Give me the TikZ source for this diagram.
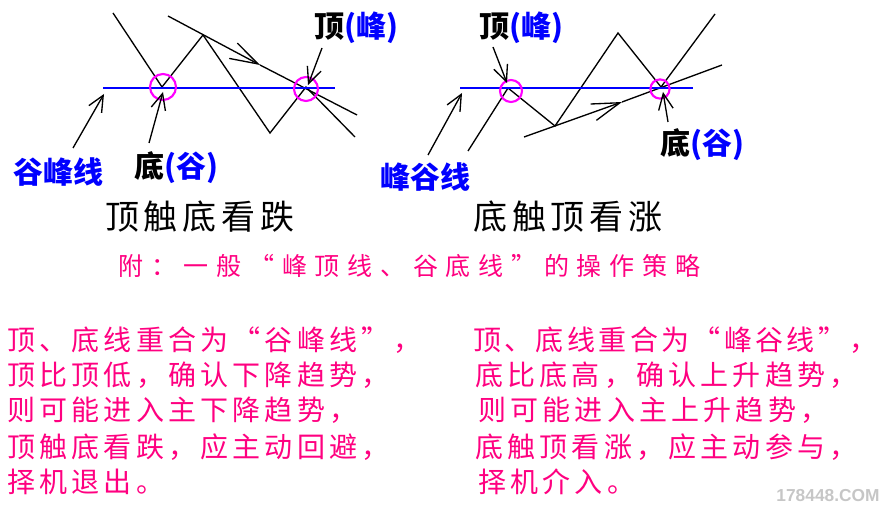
\documentclass[tikz,border=0pt]{standalone}
\usepackage{fontspec}
\newfontfamily\cjk{Noto Sans CJK SC}
\newfontfamily\cjkverdict[LetterSpace=14]{Noto Sans CJK SC}
\newfontfamily\cjkrule[LetterSpace=31]{Noto Sans CJK SC}
\newfontfamily\cjkbody[LetterSpace=15]{Noto Sans CJK SC}
\newfontfamily\cjkbodytight[LetterSpace=12]{Noto Sans CJK SC}
\newfontfamily\markfont{Liberation Sans}
\usetikzlibrary{arrows.meta}
\definecolor{peakblue}{RGB}{0,0,255}
\definecolor{notepink}{RGB}{255,0,128}
\definecolor{ringpink}{RGB}{255,0,255}
\tikzset{
price/.style={
  draw=black,
  line width=1pt
  }
}
\tikzset{
level/.style={
  draw=peakblue,
  line width=1.6pt
  }
}
\tikzset{
ring/.style={
  draw=ringpink,
  line width=1.6pt
  }
}
\tikzset{
tag/.style={
  inner sep=0pt,
  font=\cjk\bfseries\fontsize{22.5}{24}\selectfont
  }
}
\tikzset{
verdict/.style={
  inner sep=0pt,
  anchor=west,
  font=\cjkverdict\fontsize{25.5}{28}\selectfont
  }
}
\tikzset{
rule/.style={
  inner sep=0pt,
  anchor=west,
  text=notepink,
  font=\cjkrule\fontsize{18.75}{20}\selectfont
  }
}
\tikzset{
bodyline/.style={
  inner sep=0pt,
  anchor=west,
  text=notepink,
  font=\cjkbody\fontsize{21}{24}\selectfont
  }
}
\tikzstyle{pointer} = [draw,line width=1pt,-{Straight Barb[length=12pt,width=11pt]}]
\tikzstyle{trendtip} = [draw,line width=1pt,-{Straight Barb[length=21pt,width=13pt]}]

\begin{document}
\begin{tikzpicture}[x=0.75pt, y=-0.75pt]
	\path[use as bounding box] (0,0) rectangle (884,505);

	%left chart: top touches bottom
	\coordinate (la0) at (113, 13);
	\coordinate (la1) at (162, 87);
	\coordinate (la2) at (203, 35);
	\coordinate (la3) at (270, 133);
	\coordinate (la4) at (306, 87);
	\coordinate (la5) at (355, 137);
	\coordinate (lt0) at (168, 16);
	\coordinate (ltm) at (260, 65);
	\coordinate (lt1) at (357, 115);
	\coordinate (ll0) at (103, 88);
	\coordinate (ll1) at (335, 88);

	\draw[price] (la0) -- (la1) -- (la2) -- (la3) -- (la4) -- (la5);
	\draw[trendtip] (lt0) -- (ltm);
	\draw[price] (ltm) -- (lt1);
	\draw[level] (ll0) -- (ll1);
	\draw[ring] (163, 87) circle[radius=9.75pt];
	\draw[ring] (306, 89) circle[radius=9pt];

	%right chart: bottom touches top
	\coordinate (ra0) at (468, 151);
	\coordinate (ra1) at (508, 88);
	\coordinate (ra2) at (555, 126);
	\coordinate (ra3) at (618, 33);
	\coordinate (ra4) at (661, 87);
	\coordinate (ra5) at (715, 14);
	\coordinate (rt0) at (524, 137);
	\coordinate (rtm) at (622, 102);
	\coordinate (rt1) at (722, 65);
	\coordinate (rl0) at (460, 88);
	\coordinate (rl1) at (693, 88);

	\draw[price] (ra0) -- (ra1) -- (ra2) -- (ra3) -- (ra4) -- (ra5);
	\draw[trendtip] (rt0) -- (rtm);
	\draw[price] (rtm) -- (rt1);
	\draw[level] (rl0) -- (rl1);
	\draw[ring] (511, 91) circle[radius=8.25pt];
	\draw[ring] (660, 89) circle[radius=7.2pt];

	%labels
	\node (lline) at (58, 172) [tag, text=peakblue] {谷峰线};
	\node (lbottom) at (176, 168) [tag] {底\textcolor{peakblue}{(谷)}};
	\node (ltop) at (356, 28) [tag] {顶\textcolor{peakblue}{(峰)}};
	\node (rline) at (425, 177) [tag, text=peakblue] {峰谷线};
	\node (rtop) at (521, 28) [tag] {顶\textcolor{peakblue}{(峰)}};
	\node (rbottom) at (702, 145) [tag] {底\textcolor{peakblue}{(谷)}};

	%pointers
	\coordinate (plline) at (73, 148);
	\coordinate (plbottom) at (149, 143);
	\coordinate (pltop) at (322, 48);
	\coordinate (prline) at (428, 155);
	\coordinate (prtop) at (493, 47);
	\coordinate (prbottom) at (668, 122);
	\draw[pointer] (plline) -- (104, 94);
	\draw[pointer] (plbottom) -- (163, 92);
	\draw[pointer] (pltop) -- (308, 85);
	\draw[pointer] (prline) -- (462, 93);
	\draw[pointer] (prtop) -- (507, 83);
	\draw[pointer] (prbottom) -- (663, 92);

	%texts
	\node (lverdict) at (105, 217) [verdict] {顶触底看跌};
	\node (rverdict) at (473, 217) [verdict] {底触顶看涨};
	\node (strategy) at (118, 266) [rule] {附：一般“峰顶线、谷底线”的操作策略};

	\node (l1) at (7, 340) [bodyline] {顶、底线重合为“谷峰线”，};
	\node (l2) at (7, 375) [bodyline] {顶比顶低，确认下降趋势，};
	\node (l3) at (7, 410) [bodyline] {则可能进入主下降趋势，};
	\node (l4) at (7, 447) [bodyline] {顶触底看跌，应主动回避，};
	\node (l5) at (7, 482) [bodyline] {择机退出。};

	\node (r1) at (473, 340) [bodyline, font=\cjkbodytight\fontsize{21}{24}\selectfont] {顶、底线重合为“峰谷线”，};
	\node (r2) at (475, 375) [bodyline] {底比底高，确认上升趋势，};
	\node (r3) at (478, 410) [bodyline] {则可能进入主上升趋势，};
	\node (r4) at (475, 447) [bodyline] {底触顶看涨，应主动参与，};
	\node (r5) at (478, 482) [bodyline] {择机介入。};

	\node (mark) at (828, 496) [inner sep=0pt, text=gray!45, font=\markfont\bfseries\fontsize{13}{14}\selectfont] {178448.COM};
\end{tikzpicture}
\end{document}
